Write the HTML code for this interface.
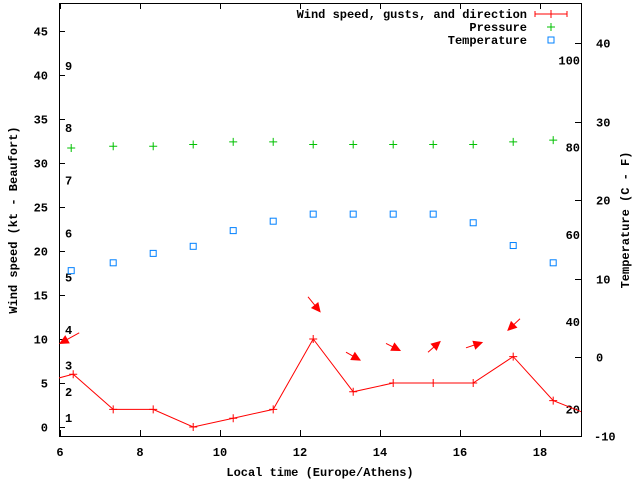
<!DOCTYPE html>
<html><head><meta charset="utf-8"><style>
body{margin:0;background:#fff;}
svg{display:block;font-family:"Liberation Mono","DejaVu Sans Mono",monospace;font-weight:bold;font-size:12px;}
</style></head><body>
<svg id="c" width="640" height="480" xmlns="http://www.w3.org/2000/svg"></svg>
<script>
const hours=[5.33,6.33,7.33,8.33,9.33,10.33,11.33,12.33,13.33,14.33,15.33,16.33,17.33,18.33,19.33];
const wind=[4.8,6,2,2,0,1,2,10,4,5,5,5,8,3,1.2];
const windMarked=[false,true,true,true,true,true,true,true,true,true,true,true,true,true,false];
const pHours=[6.28,7.33,8.33,9.33,10.33,11.33,12.33,13.33,14.33,15.33,16.33,17.33,18.33];
const pressure=[31.7,31.9,31.9,32.1,32.4,32.4,32.1,32.1,32.1,32.1,32.1,32.4,32.6];
const tHours=[6.28,7.33,8.33,9.33,10.33,11.33,12.33,13.33,14.33,15.33,16.33,17.33,18.33];
const temp=[11.0,12.0,13.2,14.1,16.1,17.3,18.2,18.2,18.2,18.2,17.1,14.2,12.0];
// direction arrows: start hour, start kt, end hour, end kt
const arrHour0=[6.48,12.2,13.15,14.15,15.2,16.15,17.5];
const arrKt0=[10.7,14.8,8.5,9.5,8.5,9.0,12.3];
const arrHour1=[6.0,12.5,13.5,14.5,15.5,16.55,17.2];
const arrKt1=[9.5,13.1,7.6,8.7,9.7,9.6,11.0];
const xTicks=[6,8,10,12,14,16,18];
const yTicks=[0,5,10,15,20,25,30,35,40,45];
const tTicks=[-10,0,10,20,30,40];
const fLabels=[20,40,60,80,100];
const bftLabels=[1,2,3,4,5,6,7,8,9];
const bftKt=[1,4,7,11,17,22,28,34,41];

const L=59,R=581,T=3,B=436;
const X=h=>60+(h-6)*40;
const Y=k=>427-k*8.8;
const YT=c=>357-c*7.85;
const svg=document.getElementById('c');
const NS='http://www.w3.org/2000/svg';
function el(tag,attrs,parent){const e=document.createElementNS(NS,tag);for(const k in attrs)e.setAttribute(k,attrs[k]);(parent||svg).appendChild(e);return e;}
function txt(s,x,y,anchor,parent){const t=el('text',{x:x,y:y,'text-anchor':anchor||'middle'},parent);t.textContent=s;return t;}

const defs=el('defs',{});
const cp=el('clipPath',{id:'clip'},defs);el('rect',{x:L,y:T,width:R-L,height:B-T},cp);

const axes=el('g',{stroke:'#000','stroke-width':1,fill:'none'});

el('rect',{x:L+0.5,y:T+0.5,width:R-L,height:B-T},axes);

const xg=el('g',{});
xTicks.forEach(v=>{const x=X(v)+0.5;el('line',{x1:x,y1:B,x2:x,y2:B-6,stroke:'#000'},xg);el('line',{x1:x,y1:T,x2:x,y2:T+6,stroke:'#000'},xg);const t=txt(String(v),X(v),456,'middle',xg);});
const yg=el('g',{});
yTicks.forEach(v=>{const y=Math.round(Y(v))+0.5;el('line',{x1:L,y1:y,x2:L+6,y2:y,stroke:'#000'},yg);const t=txt(String(v),48,y+4,'end',yg);});
const tg=el('g',{});
tTicks.forEach(v=>{const y=Math.round(YT(v))+0.5;el('line',{x1:R-6,y1:y,x2:R,y2:y,stroke:'#000'},tg);const t=txt(String(v),v<0?594:596,y+4,'start',tg);});
fLabels.forEach(v=>{const c=(v-32)*5/9;const t=txt(String(v),580,YT(c)+4,'end',tg);});
bftLabels.forEach((v,i)=>{const t=txt(String(v),65,Y(bftKt[i])+4,'start',yg);});

let t=txt('Local time (Europe/Athens)',320,476);
t=el('text',{x:0,y:0,'text-anchor':'middle',transform:'translate(17,220) rotate(-90)'});t.textContent='Wind speed (kt - Beaufort)';
t=el('text',{x:0,y:0,'text-anchor':'middle',transform:'translate(629,220) rotate(-90)'});t.textContent='Temperature (C - F)';

const plot=el('g',{'clip-path':'url(#clip)'});
// wind line
const wg=el('g',{});
plot.appendChild(wg);
const pl=el('polyline',{points:hours.map((h,i)=>X(h)+','+Y(wind[i])).join(' '),fill:'none',stroke:'#f00','stroke-width':1},wg);

hours.forEach((h,i)=>{if(!windMarked[i])return;const x=X(h),y=Y(wind[i]);const p=el('path',{d:`M${x-4},${y}H${x+4}M${x},${y-4}V${y+4}`,stroke:'#f00'},wg);});
// arrows
arrHour0.forEach((h,i)=>{const x0=X(h),y0=Y(arrKt0[i]),x1=X(arrHour1[i]),y1=Y(arrKt1[i]);const a=Math.atan2(y1-y0,x1-x0);const hl=9,hw=0.45;
const g=el('g',{},plot);
el('line',{x1:x0,y1:y0,x2:x1,y2:y1,stroke:'#f00'},g);
el('polygon',{points:`${x1},${y1} ${x1-hl*Math.cos(a-hw)},${y1-hl*Math.sin(a-hw)} ${x1-hl*Math.cos(a+hw)},${y1-hl*Math.sin(a+hw)}`,fill:'#f00',stroke:'#f00'},g);});
// pressure
const pg=el('g',{},plot);
pHours.forEach((h,i)=>{const x=X(h),y=Y(pressure[i]);const p=el('path',{d:`M${x-4},${y}H${x+4}M${x},${y-4}V${y+4}`,stroke:'#00c000'},pg);});
// temperature
const tgp=el('g',{},plot);
tHours.forEach((h,i)=>{const x=X(h),y=YT(temp[i]);const r=el('rect',{x:x-3,y:y-3,width:6,height:6,fill:'none',stroke:'#0080ff'},tgp);});

// legend
const lg=el('g',{});
[['Wind speed, gusts, and direction',18],['Pressure',31],['Temperature',44]].forEach((e,i)=>{const tt=txt(e[0],527,e[1]-0,'end',lg);});
el('path',{d:'M535,14H567M535,11V17M567,11V17M551,10V18',stroke:'#f00'},lg);
el('path',{d:'M547,27H555M551,23V31',stroke:'#00c000'},lg);
el('rect',{x:548,y:37,width:6,height:6,fill:'none',stroke:'#0080ff'},lg);
</script>
</body></html>
